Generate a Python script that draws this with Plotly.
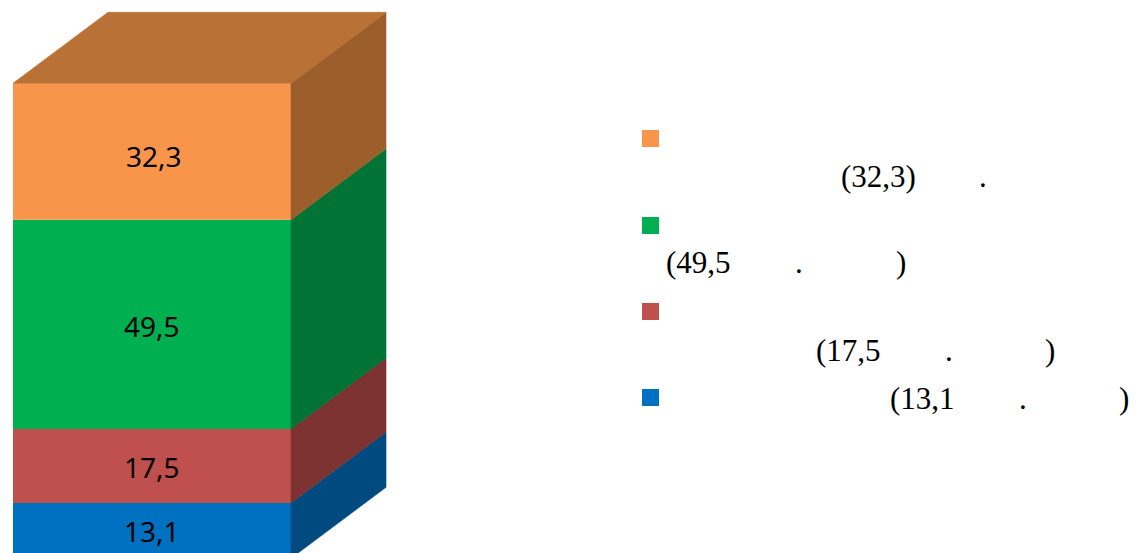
import plotly.graph_objects as go

# Stack order: bottom to top
values = [13.1, 17.5, 49.5, 32.3]
front_colors = ["#0070C0", "#C0504D", "#00B050", "#F9954A"]
side_colors = ["#004A80", "#7C3230", "#007335", "#9C5F2B"]
top_color = "#BA7135"
label_shift_y = [0, -1, -2, -4]
label_shift_x = [0, 0, 0, 2]

# Legend text fragments that are visible in the reference, one row per series
legend_rows = [
    [("(32,3)", 841, 187), (".", 979, 187)],
    [("(49,5", 666, 272), (".", 795, 272), (")", 896, 272)],
    [("(17,5", 816, 360), (".", 945, 360), (")", 1045, 360)],
    [("(13,1", 890, 408), (".", 1019, 408), (")", 1119, 408)],
]
legend_squares = [(130, "#F9954A"), (217, "#00B050"), (303, "#C0504D"), (389, "#0070C0")]

W, H = 1136, 553
PX_PER_X = 278.0      # bar width in px = 1 x unit
PX_PER_Y = 4.226
LEFT_PX = 13.0
ZERO_PX = 558.3
DEPTH_X = 95 / PX_PER_X
DEPTH_Y = 71 / PX_PER_Y

fig = go.Figure()
annotations = []

bottom = 0.0
for v, fc, sc, sy, sx in zip(values, front_colors, side_colors, label_shift_y, label_shift_x):
    fig.add_trace(go.Scatter(
        x=[0.5, 0.5 + DEPTH_X, 0.5 + DEPTH_X, 0.5, 0.5],
        y=[bottom, bottom + DEPTH_Y, bottom + v + DEPTH_Y, bottom + v, bottom],
        mode="lines", fill="toself", fillcolor=sc, line=dict(width=0.6, color=sc),
        hoverinfo="skip",
    ))
    fig.add_trace(go.Bar(
        x=[0], y=[v], base=[bottom], width=[1],
        marker=dict(color=fc, line=dict(width=0)),
        hoverinfo="skip",
    ))
    annotations.append(dict(
        text=str(v).replace(".", ","), x=0, y=bottom + v / 2, xref="x", yref="y",
        xshift=sx, yshift=sy, showarrow=False,
        font=dict(family="Noto Sans", size=28, color="black"),
    ))
    bottom += v

fig.add_trace(go.Scatter(
    x=[-0.5, -0.5 + DEPTH_X, 0.5 + DEPTH_X, 0.5, -0.5],
    y=[bottom, bottom + DEPTH_Y, bottom + DEPTH_Y, bottom, bottom],
    mode="lines", fill="toself", fillcolor=top_color, line=dict(width=0.6, color=top_color),
    hoverinfo="skip",
))

for row in legend_rows:
    for text, px, baseline in row:
        annotations.append(dict(
            text=text, xref="paper", yref="paper",
            x=px / W, y=1 - (baseline + 7.5) / H,
            xanchor="left", yanchor="bottom", showarrow=False,
            font=dict(family="Liberation Serif", size=31, color="black"),
            borderpad=0, borderwidth=0,
        ))

shapes = [
    dict(type="rect", xref="paper", yref="paper",
         x0=642 / W, x1=659 / W, y0=1 - (top + 17) / H, y1=1 - top / H,
         fillcolor=color, line=dict(width=0))
    for top, color in legend_squares
]

fig.update_layout(
    width=W, height=H, margin=dict(l=0, r=0, t=0, b=0),
    paper_bgcolor="white", plot_bgcolor="white",
    barmode="overlay", showlegend=False,
    xaxis=dict(visible=False, range=[-0.5 - LEFT_PX / PX_PER_X, -0.5 + (W - LEFT_PX) / PX_PER_X]),
    yaxis=dict(visible=False, range=[(ZERO_PX - H) / PX_PER_Y, ZERO_PX / PX_PER_Y]),
    annotations=annotations, shapes=shapes,
)

fig.write_html("out.html", config=dict(displayModeBar=False),
               post_script="document.body.style.margin='0';document.body.style.overflow='hidden';")
